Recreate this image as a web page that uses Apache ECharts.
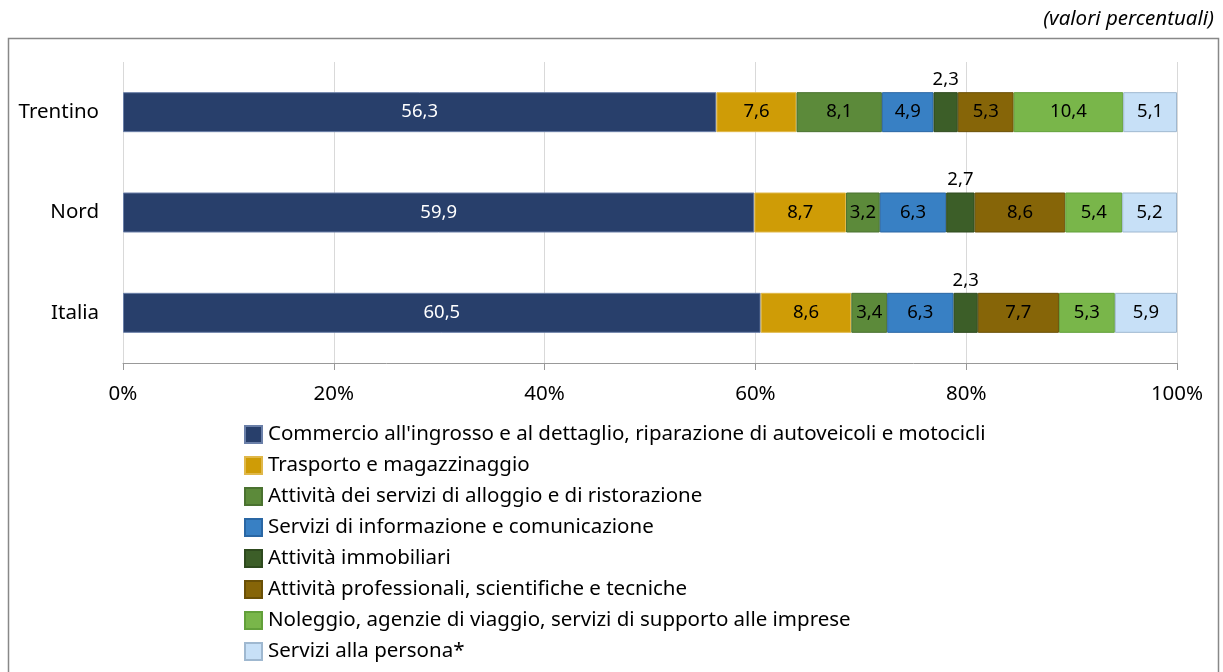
<!DOCTYPE html>
<html><head><meta charset="utf-8">
<script src="https://cdn.jsdelivr.net/npm/echarts@6/dist/echarts.min.js"></script>
<style>html,body{margin:0;padding:0;background:#fff}#c{width:1223px;height:672px}</style>
</head><body><div id="c"></div>
<script>
const categories = ['Trentino', 'Nord', 'Italia'];
const seriesNames = [
  "Commercio all'ingrosso e al dettaglio, riparazione di autoveicoli e motocicli",
  "Trasporto e magazzinaggio",
  "Attività dei servizi di alloggio e di ristorazione",
  "Servizi di informazione e comunicazione",
  "Attività immobiliari",
  "Attività professionali, scientifiche e tecniche",
  "Noleggio, agenzie di viaggio, servizi di supporto alle imprese",
  "Servizi alla persona*"
];
const commercio = [56.3, 59.9, 60.5];
const trasporto = [7.6, 8.7, 8.6];
const alloggio = [8.1, 3.2, 3.4];
const informazione = [4.9, 6.3, 6.3];
const immobiliari = [2.3, 2.7, 2.3];
const professionali = [5.3, 8.6, 7.7];
const noleggio = [10.4, 5.4, 5.3];
const persona = [5.1, 5.2, 5.9];
const xTicks = [0, 20, 40, 60, 80, 100];

const values = [commercio, trasporto, alloggio, informazione, immobiliari, professionali, noleggio, persona];
const colors = ['#283f6b', '#cf9c06', '#5c8a3a', '#3880c4', '#3c5e28', '#866508', '#79b64a', '#c7e0f7'];
const borders = ['#6a7fa8', '#e0b84a', '#4a7230', '#2a67a4', '#2e4a1e', '#6a5006', '#62a03a', '#9fb8d0'];
const font = 'Noto Sans';
const fmt = v => v.toFixed(1).replace('.', ',');

const series = values.map((arr, i) => ({
  name: seriesNames[i],
  type: 'bar',
  stack: 'total',
  barWidth: 40,
  data: arr,
  itemStyle: { color: colors[i], borderColor: borders[i], borderWidth: 1 },
  label: {
    show: true,
    position: i === 4 ? 'top' : 'inside',
    distance: 3,
    color: i === 0 ? '#ffffff' : '#000000',
    fontFamily: font,
    fontSize: 18.5,
    formatter: p => fmt(p.value)
  }
}));

const chart = echarts.init(document.getElementById('c'), null, { renderer: 'canvas' });
chart.setOption({
  animation: false,
  backgroundColor: '#ffffff',
  color: colors,
  graphic: [
    { type: 'rect', shape: { x: 8.5, y: 38.5, width: 1210, height: 640 }, style: { fill: 'none', stroke: '#888888', lineWidth: 1.5 }, z: -1 },
    { type: 'text', right: 9, top: 9, style: { text: '(valori percentuali)', font: 'italic 20.5px "Noto Sans"', fill: '#000' } }
  ],
  grid: { left: 123, right: 46, top: 62, bottom: 309 },
  legend: {
    orient: 'vertical',
    left: 239,
    top: 419,
    height: 260,
    itemWidth: 17,
    itemHeight: 17,
    itemGap: 10,
    icon: 'rect',
    textStyle: { fontFamily: font, fontSize: 20.5, color: '#000', padding: [0, 0, 0, 1] },
    data: seriesNames
  },
  xAxis: {
    type: 'value',
    min: 0,
    max: 100,
    interval: 20,
    axisLine: { show: true, lineStyle: { color: '#999999' } },
    axisTick: { show: true, length: 7, lineStyle: { color: '#999999' } },
    splitLine: { show: true, lineStyle: { color: '#d9d9d9' } },
    axisLabel: { formatter: v => xTicks.includes(v) ? v + '%' : '', fontFamily: font, fontSize: 20.5, color: '#000', margin: 21 }
  },
  yAxis: {
    type: 'category',
    inverse: true,
    data: categories,
    axisLine: { show: false },
    axisTick: { show: false },
    axisLabel: { fontFamily: font, fontSize: 20.5, color: '#000', margin: 24 }
  },
  series: series
});
</script></body></html>
